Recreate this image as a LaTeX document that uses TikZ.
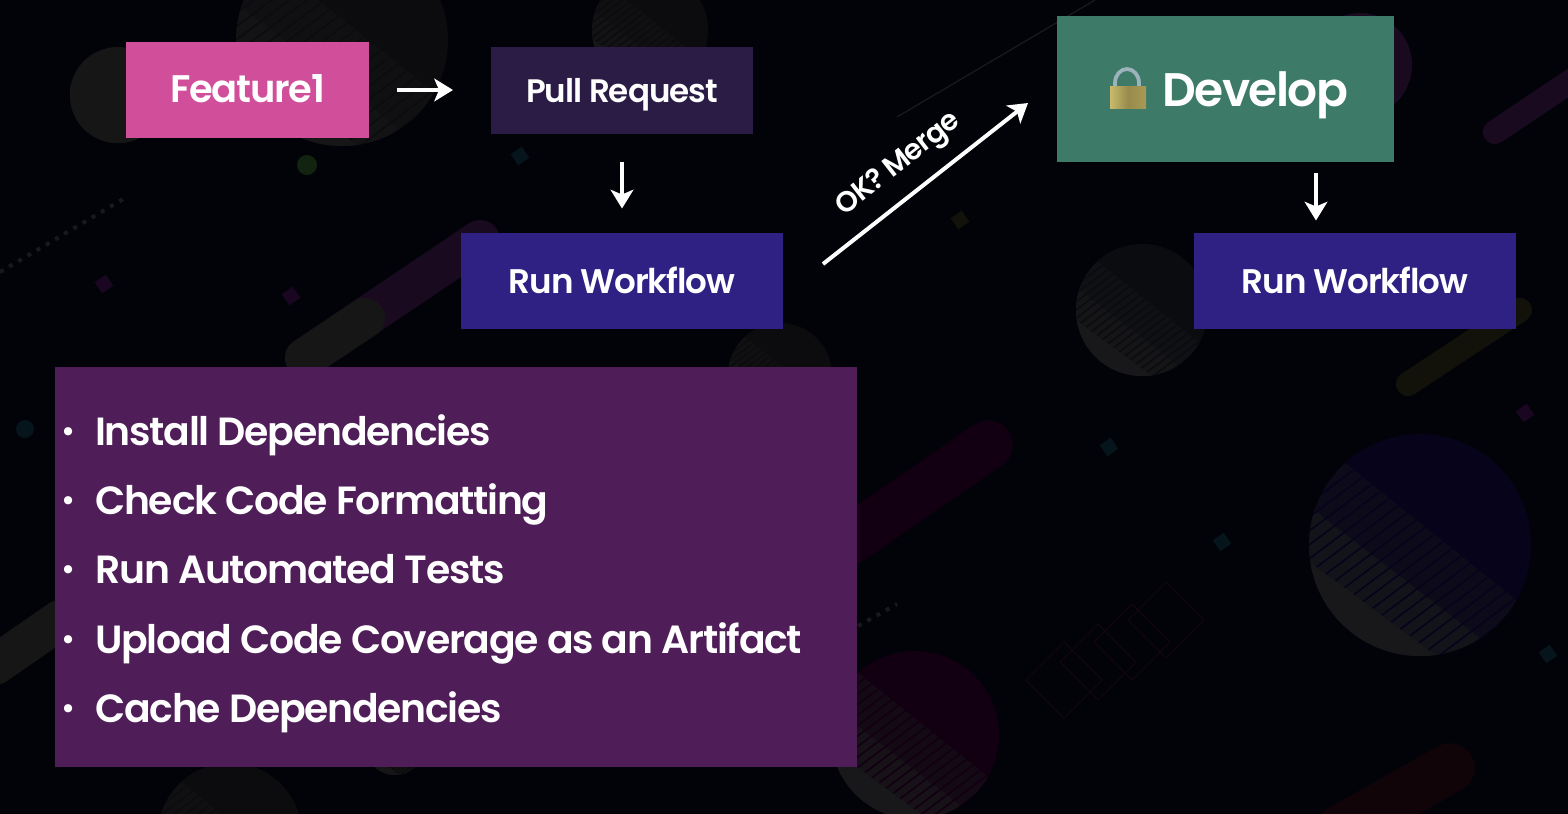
\documentclass[tikz,border=0pt]{standalone}
\usepackage{fontspec}
\setmainfont{Poppins}[BoldFont={Poppins SemiBold}]
\newfontfamily\semi{Poppins SemiBold}[LetterSpace=-3.2]
\usetikzlibrary{arrows.meta,calc}
\definecolor{bgc}{HTML}{020308}
\definecolor{pinkc}{HTML}{D04E9A}
\definecolor{prc}{HTML}{2A1C45}
\definecolor{bluec}{HTML}{2E2183}
\definecolor{greenc}{HTML}{3E7A68}
\definecolor{purplec}{HTML}{4F1E58}
\definecolor{greyd}{HTML}{161617}
\definecolor{hatchc}{HTML}{18181A}
\definecolor{darkg}{HTML}{0C0C0E}
\definecolor{navyd}{HTML}{06031A}
\definecolor{dimc}{HTML}{0B0C10}
\definecolor{plumd}{HTML}{120012}
\definecolor{plumc}{HTML}{1A0A20}
\definecolor{olived}{HTML}{12120A}
\definecolor{wined}{HTML}{110408}
\definecolor{linec}{HTML}{12060E}
\definecolor{tealc}{HTML}{06141C}
\definecolor{magd}{HTML}{1A0620}
\definecolor{dotg}{HTML}{12240F}
\definecolor{dots}{HTML}{19191B}
\definecolor{lockA}{HTML}{C9BB6B}
\definecolor{lockB}{HTML}{A89A55}
\definecolor{shackle}{HTML}{9DB3BC}
\newcommand{\blob}[5]{% x y r base shade
  \begin{scope}
    \fill[#4] (#1,#2) circle (#3);
    \clip (#1,#2) circle (#3);
    \fill[#5!40!#4] (#1-#3,#2-#3) -- (#1+#3,#2+0.6*#3) -- (#1+#3,#2+#3) -- (#1-#3,#2+#3) -- cycle;
    \fill[#5!75!#4] (#1-#3,#2-0.35*#3) -- (#1+0.75*#3,#2+#3) -- (#1-#3,#2+#3) -- cycle;
    \foreach \k in {-16,-15,...,16}{\draw[#4,line width=1.2pt] ($(#1,#2)+(-#3,0)+(0,{\k*#3/8})$) -- ++(2*#3,{-1.5*#3});}
    \fill[#5] (#1-#3,#2+0.15*#3) -- (#1+0.15*#3,#2+#3) -- (#1-#3,#2+#3) -- cycle;
  \end{scope}}
\tikzset{
  x=0.75pt,y=-0.75pt,
  boxnode/.style={inner sep=0pt,outer sep=0pt,text=white,text height=19pt,text depth=0pt},
  flow/.style={draw=white,line width=3pt,-{Stealth[length=14pt,width=17pt,inset=3.5pt]}},
  item/.style={anchor=base west,inner sep=0pt,text=white,font=\fontsize{29.5pt}{36pt}\semi},
  dotitem/.style={anchor=base,inner sep=0pt,text=white,font=\fontsize{22pt}{26pt}\semi},
  capsule/.style={line cap=round,line width=#1},
  gem/.style={minimum size=10pt,rotate=35,inner sep=0pt}
}
\begin{document}
\begin{tikzpicture}
\useasboundingbox (0,0) rectangle (1568,814);
\fill[bgc] (0,0) rectangle (1568,814);
\begin{scope}
  \clip (0,0) rectangle (1568,814);
  % background decoration
  \blob{342}{40}{106}{darkg}{greyd}
  \blob{118}{95}{48}{greyd}{greyd}
  \blob{650}{30}{58}{darkg}{greyd}
  \blob{1360}{65}{52}{plumc}{plumc}
  \blob{780}{375}{52}{darkg}{greyd}
  \blob{1142}{310}{66}{dimc}{hatchc}
  \blob{1420}{545}{111}{navyd}{hatchc}
  \blob{915}{735}{84}{plumd}{hatchc}
  \blob{230}{835}{72}{darkg}{greyd}
  \blob{395}{745}{30}{darkg}{greyd}
  \draw[plumc,capsule=30pt] (305,358) -- (480,240);
  \draw[greyd,capsule=30pt] (305,358) -- (365,318);
  \draw[plumd,capsule=37pt] (850,540) -- (988,445);
  \draw[olived,capsule=18pt] (1408,384) -- (1520,310);
  \draw[wined,capsule=37pt] (1340,830) -- (1450,768);
  \draw[plumc,capsule=18pt] (1495,132) -- (1580,75);
  \draw[greyd,capsule=30pt] (-5,665) -- (60,620);
  \draw[dots,line width=1pt] (897,117) -- (1095,0);
  \draw[dots,line width=3pt,dash pattern=on 3pt off 5pt] (0,272) -- (125,198);
  \draw[dots,line width=3pt,dash pattern=on 3pt off 5pt] (858,626) -- (897,604);
  \fill[dotg] (307,165) circle (10);
  \fill[tealc] (25,429) circle (9);
  \foreach \x/\y/\c in {104/284/magd,291/296/magd,520/156/tealc,1109/447/tealc,1222/542/tealc,1548/654/tealc,1525/413/magd,960/220/olived}
    \node[gem,fill=\c] at (\x,\y) {};
  \foreach \x/\y in {1064/680,1098/662,1132/642,1166/620}
    \draw[linec,line width=0.8pt] (\x-38,\y) -- (\x,\y-38) -- (\x+38,\y) -- (\x,\y+38) -- cycle;
\end{scope}
% boxes
\node[boxnode,fill=pinkc,minimum width=182.25pt,minimum height=72pt,font=\fontsize{28.8pt}{32pt}\semi] (feat) at (247.5,90) {Feature1};
\node[boxnode,fill=prc,minimum width=196.5pt,minimum height=65.25pt,font=\fontsize{24.4pt}{29pt}\semi] (pr) at (622,90) {Pull Request};
\node[boxnode,fill=bluec,minimum width=241.5pt,minimum height=72pt,font=\fontsize{25.6pt}{29pt}\semi] (rwa) at (622,280.5) {Run Workflow};
\node[boxnode,fill=greenc,minimum width=252.75pt,minimum height=109.5pt] (dev) at (1225,89) {};
\node[anchor=base west,inner sep=0pt,text=white,font=\fontsize{35.3pt}{43pt}\semi] (devt) at (1162,106) {Develop};
\node[boxnode,fill=bluec,minimum width=241.5pt,minimum height=72pt,font=\fontsize{25.6pt}{29pt}\semi] (rwb) at (1355,280.5) {Run Workflow};
\node[boxnode,fill=purplec,minimum width=601.5pt,minimum height=300pt] (list) at (456,567) {};
% lock
\draw[shackle,line width=2.8pt] (1115,88) -- (1115,83) arc[start angle=180,end angle=360,x radius=12,y radius=14] -- (1139,88);
\shade[left color=lockA,right color=lockB,middle color=lockB!90!black] (1110,86) rectangle (1146,108);
% list
\foreach \t/\y/\n in {Install Dependencies/445/a,Check Code Formatting/514/b,Run Automated Tests/583/c,Upload Code Coverage as an Artifact/653/d,Cache Dependencies/722/e}{
  \node[dotitem] (dot\n) at (69,\y-4) {•};
  \node[item] (it\n) at (95,\y) {\t};
}
% connectors
\coordinate (mergefrom) at (823,264);
\coordinate (mergeto) at (1028,103);
\coordinate (devout) at (1316,162);
\draw[flow,shorten <=21pt,shorten >=28.5pt] (feat.east) -- (pr.west);
\draw[flow,shorten <=21pt,shorten >=18pt] (pr.south) -- (rwa.north);
\draw[flow] (mergefrom) -- (mergeto);
\draw[flow,shorten <=8pt,shorten >=9pt] (devout) -- (devout |- rwb.north);
\node[inner sep=0pt,text=white,rotate=38,font=\fontsize{21.5pt}{25pt}\semi] (ok) at (899,165) {OK? Merge};
\end{tikzpicture}
\end{document}
